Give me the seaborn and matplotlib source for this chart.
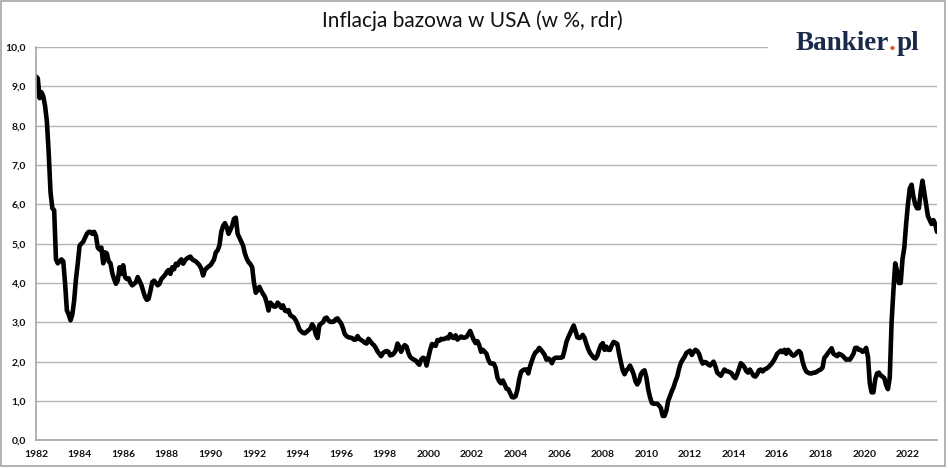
import numpy as np
import pandas as pd
import matplotlib
matplotlib.use("Agg")
import matplotlib.pyplot as plt
from matplotlib.patches import Rectangle
import seaborn as sns

# inflacja bazowa CPI w USA (r/r, %), dane miesięczne od 01.1982 do 05.2023
start_year = 1982

core_1980s = [
    9.25, 9.2, 8.7, 8.85, 8.75, 8.5, 8.1, 7.3, 6.3, 5.9, 5.85, 4.6,          # 1982
    4.5, 4.55, 4.6, 4.55, 4.0, 3.3, 3.2, 3.05, 3.2, 3.55, 4.1, 4.5,          # 1983
    4.95, 5.0, 5.05, 5.15, 5.25, 5.3, 5.3, 5.25, 5.3, 5.2, 4.9, 4.85,        # 1984
    4.9, 4.5, 4.78, 4.75, 4.55, 4.5, 4.25, 4.1, 3.98, 4.06, 4.4, 4.23,       # 1985
    4.45, 4.15, 4.1, 4.12, 4.0, 3.94, 3.98, 4.02, 4.15, 4.05, 3.95, 3.8,     # 1986
    3.65, 3.57, 3.6, 3.8, 4.02, 4.06, 4.0, 3.94, 3.98, 4.1, 4.15, 4.2,       # 1987
    4.28, 4.33, 4.23, 4.4, 4.35, 4.49, 4.45, 4.55, 4.6, 4.49, 4.57, 4.62,    # 1988
    4.65, 4.67, 4.6, 4.57, 4.55, 4.5, 4.45, 4.36, 4.19, 4.33, 4.38, 4.42,    # 1989
]

core_1990s = [
    4.45, 4.52, 4.6, 4.78, 4.83, 4.96, 5.3, 5.45, 5.52, 5.42, 5.25, 5.35,    # 1990
    5.46, 5.63, 5.66, 5.25, 5.15, 5.05, 4.95, 4.75, 4.62, 4.53, 4.48, 4.4,   # 1991
    4.0, 3.75, 3.83, 3.9, 3.8, 3.72, 3.65, 3.5, 3.3, 3.5, 3.45, 3.4,         # 1992
    3.4, 3.5, 3.45, 3.37, 3.43, 3.3, 3.28, 3.31, 3.18, 3.15, 3.12, 3.05,     # 1993
    2.95, 2.82, 2.77, 2.73, 2.72, 2.76, 2.8, 2.84, 2.95, 2.88, 2.7, 2.6,     # 1994
    2.93, 2.97, 3.0, 3.1, 3.12, 3.05, 3.01, 3.01, 3.02, 3.08, 3.1, 3.03,     # 1995
    2.97, 2.85, 2.7, 2.65, 2.62, 2.61, 2.6, 2.56, 2.56, 2.65, 2.58, 2.55,    # 1996
    2.52, 2.48, 2.46, 2.58, 2.52, 2.46, 2.42, 2.35, 2.26, 2.2, 2.14, 2.22,   # 1997
    2.25, 2.27, 2.25, 2.16, 2.17, 2.21, 2.28, 2.46, 2.38, 2.25, 2.36, 2.42,  # 1998
    2.38, 2.22, 2.12, 2.08, 2.05, 2.03, 1.97, 1.92, 2.05, 2.1, 2.08, 1.9,    # 1999
]

core_2000s = [
    2.1, 2.3, 2.45, 2.42, 2.4, 2.55, 2.53, 2.58, 2.57, 2.58, 2.61, 2.59,     # 2000
    2.7, 2.62, 2.6, 2.67, 2.56, 2.6, 2.64, 2.61, 2.61, 2.63, 2.7, 2.78,      # 2001
    2.66, 2.55, 2.47, 2.52, 2.42, 2.25, 2.3, 2.25, 2.2, 2.05, 1.96, 1.95,    # 2002
    1.95, 1.85, 1.6, 1.5, 1.45, 1.52, 1.42, 1.31, 1.3, 1.2, 1.1, 1.09,       # 2003
    1.12, 1.28, 1.55, 1.74, 1.78, 1.8, 1.8, 1.7, 1.88, 2.02, 2.15, 2.24,     # 2004
    2.27, 2.35, 2.3, 2.24, 2.17, 2.05, 2.08, 2.05, 1.96, 2.07, 2.1, 2.1,     # 2005
    2.1, 2.1, 2.12, 2.3, 2.5, 2.62, 2.72, 2.82, 2.92, 2.78, 2.62, 2.6,       # 2006
    2.62, 2.68, 2.6, 2.45, 2.32, 2.22, 2.16, 2.1, 2.08, 2.15, 2.3, 2.42,     # 2007
    2.47, 2.3, 2.38, 2.3, 2.3, 2.42, 2.5, 2.48, 2.45, 2.2, 1.98, 1.78,       # 2008
    1.68, 1.78, 1.82, 1.9, 1.8, 1.68, 1.5, 1.42, 1.5, 1.68, 1.75, 1.78,      # 2009
]

core_2010s = [
    1.6, 1.3, 1.1, 0.95, 0.93, 0.93, 0.93, 0.88, 0.82, 0.62, 0.62, 0.75,     # 2010
    1.0, 1.12, 1.25, 1.35, 1.5, 1.62, 1.82, 1.97, 2.05, 2.12, 2.22, 2.25,    # 2011
    2.28, 2.17, 2.24, 2.3, 2.27, 2.2, 2.05, 1.95, 1.99, 1.98, 1.93, 1.9,     # 2012
    1.95, 2.0, 1.88, 1.72, 1.68, 1.64, 1.72, 1.8, 1.76, 1.75, 1.73, 1.7,     # 2013
    1.62, 1.58, 1.68, 1.82, 1.96, 1.92, 1.86, 1.76, 1.72, 1.8, 1.72, 1.64,   # 2014
    1.62, 1.68, 1.78, 1.8, 1.75, 1.8, 1.82, 1.85, 1.9, 1.95, 2.02, 2.1,      # 2015
    2.2, 2.24, 2.28, 2.24, 2.3, 2.2, 2.3, 2.25, 2.18, 2.15, 2.18, 2.24,      # 2016
    2.27, 2.22, 2.0, 1.85, 1.75, 1.72, 1.7, 1.7, 1.72, 1.72, 1.75, 1.78,     # 2017
    1.8, 1.85, 2.1, 2.15, 2.22, 2.28, 2.34, 2.2, 2.17, 2.14, 2.2, 2.18,      # 2018
    2.15, 2.1, 2.05, 2.06, 2.05, 2.12, 2.2, 2.35, 2.35, 2.3, 2.3, 2.25,      # 2019
]

core_2020s = [
    2.27, 2.35, 2.12, 1.45, 1.22, 1.22, 1.55, 1.7, 1.72, 1.65, 1.62, 1.58,   # 2020
    1.4, 1.3, 1.6, 3.0, 3.8, 4.5, 4.3, 4.0, 4.0, 4.6, 4.9, 5.5,              # 2021
    6.0, 6.4, 6.5, 6.2, 6.0, 5.9, 5.9, 6.3, 6.6, 6.3, 6.0, 5.7,              # 2022
    5.6, 5.5, 5.6, 5.5, 5.3,                                                 # 2023
]

year_ticks = list(range(1982, 2023, 2))
y_ticks = list(range(0, 11))
y_labels = [f"{v:.1f}".replace(".", ",") for v in y_ticks]

title = "Inflacja bazowa w USA (w %, rdr)"
logo_parts = [("Bankier", "#1b2a4a"), (".", "#e8541e"), ("pl", "#1b2a4a")]

values = core_1980s + core_1990s + core_2000s + core_2010s + core_2020s
df = pd.DataFrame({
    "rok": start_year + np.arange(len(values)) / 12,
    "inflacja": values,
})

sns.set_theme(style="white")
plt.rcParams["font.family"] = ["Lato", "DejaVu Sans"]

W, H = 948, 468
fig = plt.figure(figsize=(W / 100, H / 100), dpi=100)
ax = fig.add_axes([36 / W, (H - 440.3) / H, 901 / W, 393.3 / H])

ax.yaxis.grid(True, color="#b4b4b4", lw=1.0)
ax.xaxis.grid(False)
ax.set_axisbelow(True)

sns.lineplot(data=df, x="rok", y="inflacja", ax=ax, color="black", lw=3.3,
             solid_joinstyle="round", solid_capstyle="round")

ax.set_xlim(start_year, df["rok"].iloc[-1])
ax.set_ylim(0, 10)
ax.set_xticks(year_ticks, labels=[str(y) for y in year_ticks],
              fontweight="bold", fontsize=7.5)
ax.set_yticks(y_ticks, labels=y_labels, fontweight="bold", fontsize=7.5)
ax.tick_params(axis="both", direction="out", length=4, width=1,
               color="#a6a6a6", labelcolor="#111111", pad=3)
ax.set_xlabel("")
ax.set_ylabel("")

for side in ["top", "right"]:
    ax.spines[side].set_visible(False)
for side in ["left", "bottom"]:
    ax.spines[side].set_color("#a6a6a6")
    ax.spines[side].set_linewidth(1.2)

fig.text(472 / W, 1 - 21 / H, title, ha="center", va="center",
         fontsize=15, color="#111111")

# logo: biała plama zakrywa siatkę, kropka na pomarańczowo
fig.add_artist(Rectangle((768 / W, 1 - 72 / H), 172 / W, 50 / H,
                         transform=fig.transFigure, facecolor="white",
                         edgecolor="none", zorder=2))
logo_x, logo_y = 796 / W, 1 - 50 / H
logo_kw = dict(va="baseline", fontsize=19.5, fontweight="bold",
               family="Liberation Serif", zorder=3)
renderer = fig.canvas.get_renderer()
prefix = ""
shift = 0.0
for part, col in logo_parts:
    prefix += part
    # prawa krawędź fragmentu mierzona na całym napisie, żeby zachować odstępy
    probe = fig.text(logo_x, logo_y, prefix, ha="left", **logo_kw)
    right = probe.get_window_extent(renderer=renderer).x1 / W
    probe.remove()
    fig.text(right + shift, logo_y, part, ha="right", color=col, **logo_kw)
    shift += 1.5 / W

# ramka
fig.add_artist(Rectangle((1 / W, 2 / H), 944 / W, 465 / H,
                         transform=fig.transFigure, fill=False,
                         edgecolor="#a6a6a6", lw=1.2, zorder=4))

fig.savefig("out.png", dpi=100)
